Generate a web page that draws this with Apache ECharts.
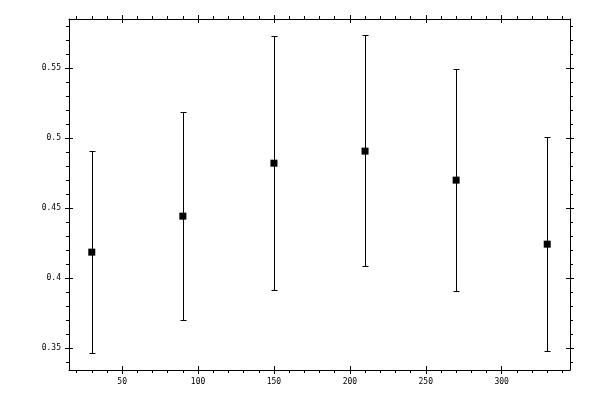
<!DOCTYPE html>
<html>
<head>
<meta charset="utf-8">
<script src="https://cdn.jsdelivr.net/npm/echarts@6/dist/echarts.min.js"></script>
<style>
html, body { margin: 0; padding: 0; background: #fff; }
#chart { width: 600px; height: 400px; }
</style>
</head>
<body>
<div id="chart"></div>
<script>
// data
var xValues = [30, 90, 150, 210, 270, 330];
var means = [0.4186, 0.4443, 0.4821, 0.4907, 0.4700, 0.4243];
var lows = [0.3464, 0.3702, 0.3914, 0.4086, 0.3909, 0.3479];
var highs = [0.4907, 0.5183, 0.5729, 0.5736, 0.5493, 0.5007];

var xMajor = [50, 100, 150, 200, 250, 300];
var xMinor = [20, 30, 40, 60, 70, 80, 90, 110, 120, 130, 140, 160, 170, 180, 190,
	210, 220, 230, 240, 260, 270, 280, 290, 310, 320, 330, 340];
var yMajor = [0.35, 0.4, 0.45, 0.5, 0.55];
var yMinor = [0.34, 0.36, 0.37, 0.38, 0.39, 0.41, 0.42, 0.43, 0.44, 0.46, 0.47, 0.48,
	0.49, 0.51, 0.52, 0.53, 0.54, 0.56, 0.57, 0.58];
var xMin = 15, xMax = 345;
var yMin = 0.3345, yMax = 0.585;

var font = { fontFamily: 'DejaVu Sans Mono', fontSize: 8, color: '#000' };

// one axis = one set of ticks (labels + outside major / inside major / outside minor)
function makeAxis(pos, min, max, ticks, inside, len, labels, line) {
	return {
		type: 'value',
		position: pos,
		min: min,
		max: max,
		scale: true,
		splitLine: { show: false },
		axisLine: { show: !!line, onZero: false, lineStyle: { color: '#000', width: 1 } },
		axisTick: {
			show: true,
			inside: inside,
			length: len,
			customValues: ticks,
			lineStyle: { color: '#000', width: 1 }
		},
		axisLabel: labels ? {
			show: true,
			margin: 8,
			customValues: ticks,
			formatter: function(v) { return String(+v.toFixed(4)); },
			fontFamily: font.fontFamily,
			fontSize: font.fontSize,
			color: font.color
		} : { show: false }
	};
}

var xAxes = [
	makeAxis('bottom', xMin, xMax, xMajor, false, 4, true, true),
	makeAxis('bottom', xMin, xMax, xMajor, true, 4, false, false),
	makeAxis('bottom', xMin, xMax, xMinor, false, 3, false, false),
	makeAxis('top', xMin, xMax, xMajor, false, 4, false, true),
	makeAxis('top', xMin, xMax, xMajor, true, 4, false, false),
	makeAxis('top', xMin, xMax, xMinor, false, 3, false, false)
];
var yAxes = [
	makeAxis('left', yMin, yMax, yMajor, false, 4, true, true),
	makeAxis('left', yMin, yMax, yMajor, true, 4, false, false),
	makeAxis('left', yMin, yMax, yMinor, false, 3, false, false),
	makeAxis('right', yMin, yMax, yMajor, false, 4, false, true),
	makeAxis('right', yMin, yMax, yMajor, true, 4, false, false),
	makeAxis('right', yMin, yMax, yMinor, false, 3, false, false)
];

var barData = [];
var pointData = [];
for (var i = 0; i < xValues.length; i++) {
	barData.push([xValues[i], lows[i], highs[i]]);
	pointData.push([xValues[i], means[i]]);
}

var chart = echarts.init(document.getElementById('chart'), null, { renderer: 'canvas' });
chart.setOption({
	animation: false,
	backgroundColor: '#fff',
	grid: { left: 69, right: 30, top: 19, bottom: 30, containLabel: false },
	xAxis: xAxes,
	yAxis: yAxes,
	series: [{
		type: 'custom',
		xAxisIndex: 0,
		yAxisIndex: 0,
		data: barData,
		encode: { x: 0, y: [1, 2] },
		renderItem: function(params, api) {
			var x = api.value(0);
			var lo = api.coord([x, api.value(1)]);
			var hi = api.coord([x, api.value(2)]);
			// snap to pixel grid so the 1px lines stay sharp
			var px = Math.round(lo[0]) + 0.5;
			var y1 = Math.round(lo[1]) + 0.5;
			var y2 = Math.round(hi[1]) + 0.5;
			var cap = 3;
			var style = { stroke: '#000', lineWidth: 1 };
			return {
				type: 'group',
				children: [
					{ type: 'line', shape: { x1: px, y1: y1, x2: px, y2: y2 }, style: style },
					{ type: 'line', shape: { x1: px - cap, y1: y1, x2: px + cap, y2: y1 }, style: style },
					{ type: 'line', shape: { x1: px - cap, y1: y2, x2: px + cap, y2: y2 }, style: style }
				]
			};
		}
	}, {
		type: 'scatter',
		xAxisIndex: 0,
		yAxisIndex: 0,
		data: pointData,
		symbol: 'rect',
		symbolSize: 7,
		itemStyle: { color: '#000', opacity: 1 },
		emphasis: { disabled: true },
		z: 3
	}]
});
</script>
</body>
</html>
